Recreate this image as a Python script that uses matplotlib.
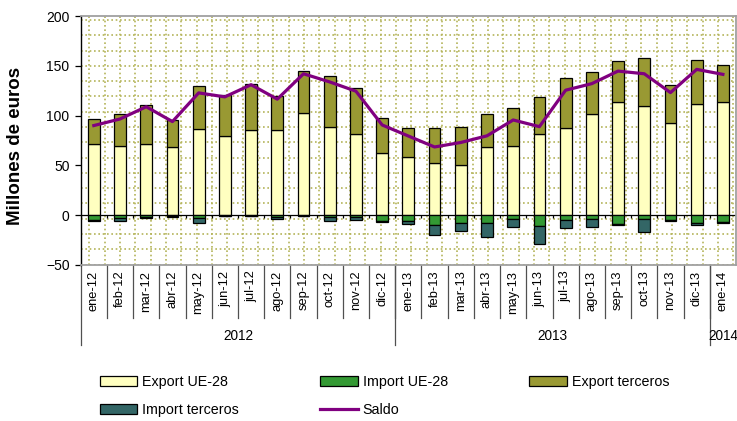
import numpy as np
import matplotlib.pyplot as plt
from matplotlib.patches import Patch
from matplotlib.lines import Line2D
import matplotlib.transforms as mtransforms

plt.rcParams['font.family'] = ['Liberation Sans', 'DejaVu Sans']

# datos (millones de euros)
meses = ['ene-12', 'feb-12', 'mar-12', 'abr-12', 'may-12', 'jun-12', 'jul-12',
         'ago-12', 'sep-12', 'oct-12', 'nov-12', 'dic-12',
         'ene-13', 'feb-13', 'mar-13', 'abr-13', 'may-13', 'jun-13', 'jul-13',
         'ago-13', 'sep-13', 'oct-13', 'nov-13', 'dic-13', 'ene-14']
anios = ['2012', '2013', '2014']
meses_por_anio = [12, 12, 1]

export_ue = [71.7, 69.7, 71.7, 68.4, 86.3, 79.3, 85.3, 85.3, 102.9, 88.6, 81.3, 62.4,
             58.4, 52.4, 50.1, 68.4, 69.7, 81.6, 87.3, 101.6, 113.8, 109.2, 92.3, 111.2, 113.8]
export_terceros = [24.5, 32.3, 39.2, 27.2, 43.5, 41.5, 46.7, 34.5, 41.5, 50.8, 46.8, 34.8,
                   29.1, 34.9, 38.5, 33.5, 38.2, 37.2, 50.7, 42.4, 40.9, 48.8, 38.1, 44.8, 37.5]
import_ue = [-5.0, -3.0, -2.0, -1.0, -2.7, -0.5, -0.5, -2.0, -0.5, -2.0, -2.3, -6.3,
             -5.7, -9.5, -8.0, -8.3, -4.3, -10.6, -5.3, -4.3, -9.0, -4.3, -5.0, -8.3, -6.6]
import_terceros = [-0.8, -2.7, -0.5, -1.0, -4.7, -0.5, -0.5, -2.0, -0.5, -4.3, -2.7, -1.0,
                   -3.0, -9.9, -7.9, -13.3, -8.0, -18.3, -8.0, -8.0, -0.6, -12.3, -1.0, -1.3, -1.4]
saldo = [90.0, 96.6, 108.9, 94.0, 122.8, 118.8, 131.0, 116.5, 142.0, 133.8, 124.5, 90.6,
         79.5, 68.5, 73.0, 79.7, 95.6, 88.9, 125.5, 132.1, 144.7, 142.0, 123.1, 146.4, 141.4]

c_exp_ue = '#FFFFC0'
c_imp_ue = '#339933'
c_exp_ter = '#999933'
c_imp_ter = '#336666'
c_saldo = '#800080'

fig = plt.figure(figsize=(7.37, 4.21), dpi=100)
ax = fig.add_axes([80.7 / 737, 1 - 265 / 421, 655.3 / 737, 249 / 421])

x = np.arange(len(meses))
ax.set_xlim(-0.5, len(meses) - 0.5)
ax.set_ylim(-50, 200)

# fondo de puntos (trama)
for gx in np.arange(-0.172, 24.5, 0.585):
    ax.axvline(gx, color='#B4B45A', lw=1.2, ls=(0, (1, 1.6)), zorder=0)
for gy in np.arange(150 - 15.36 * 13, 200, 15.36):
    ax.axhline(gy, color='#B4B45A', lw=1.2, ls=(0, (1, 1.6)), zorder=0)

w = 0.45
kw = dict(width=w, edgecolor='black', linewidth=0.9, zorder=3)
ax.bar(x, export_ue, color=c_exp_ue, **kw)
ax.bar(x, export_terceros, bottom=export_ue, color=c_exp_ter, **kw)
ax.bar(x, import_ue, color=c_imp_ue, **kw)
ax.bar(x, import_terceros, bottom=import_ue, color=c_imp_ter, **kw)
ax.plot(x, saldo, color=c_saldo, lw=2.3, zorder=4, solid_joinstyle='round')

# eje en cero con marcas pequeñas
ax.axhline(0, color='black', lw=0.9, zorder=2)
bordes = np.arange(len(meses) + 1) - 0.5
ax.vlines(bordes, -3, 0, color='black', lw=0.9, zorder=2)

# ejes
for s in ['top', 'right', 'bottom']:
    ax.spines[s].set_color('#A0A0A0')
    ax.spines[s].set_linewidth(1.3)
ax.spines['left'].set_color('black')
ax.spines['left'].set_linewidth(1.0)

ax.set_yticks([-50, 0, 50, 100, 150, 200])
ax.tick_params(axis='y', direction='out', length=4, width=0.9, labelsize=10, pad=4)
ax.set_xticks(x)
ax.set_xticklabels(meses, rotation=90, fontsize=9.3)
ax.tick_params(axis='x', length=0, pad=4)

# separadores de meses y años bajo el eje
trans = mtransforms.blended_transform_factory(ax.transData, ax.transAxes)
fin_cat = -(318 - 265) / 249
fin_anio = -(345 - 265) / 249
for b in bordes[1:-1]:
    ax.plot([b, b], [0, fin_cat], color='#505050', lw=0.9, transform=trans, clip_on=False)
inicio = 0
for anio, n in zip(anios, meses_por_anio):
    ax.plot([inicio - 0.5, inicio - 0.5], [0, fin_anio], color='#505050', lw=0.9,
            transform=trans, clip_on=False)
    ax.text(inicio + (n - 1) / 2, -(336 - 265) / 249, anio, transform=trans,
            ha='center', va='center', fontsize=9.8)
    inicio += n

fig.text(16 / 737, 1 - 146 / 421, 'Millones de euros', rotation=90, ha='center',
         va='center', fontsize=13.5, fontweight='bold')

handles = [Patch(facecolor=c_exp_ue, edgecolor='black', lw=0.9, label='Export UE-28'),
           Patch(facecolor=c_imp_ter, edgecolor='black', lw=0.9, label='Import terceros'),
           Patch(facecolor=c_imp_ue, edgecolor='black', lw=0.9, label='Import UE-28'),
           Line2D([], [], color=c_saldo, lw=2.3, label='Saldo'),
           Patch(facecolor=c_exp_ter, edgecolor='black', lw=0.9, label='Export terceros')]
fig.legend(handles=handles, ncol=3, loc='upper left', bbox_to_anchor=(100 / 737, 1 - 375 / 421),
           frameon=False, fontsize=10.3, handlelength=2.6, handleheight=0.7,
           handletextpad=0.35, columnspacing=5.7, labelspacing=1.0,
           borderpad=0, borderaxespad=0)

fig.savefig('out.png', dpi=100)
